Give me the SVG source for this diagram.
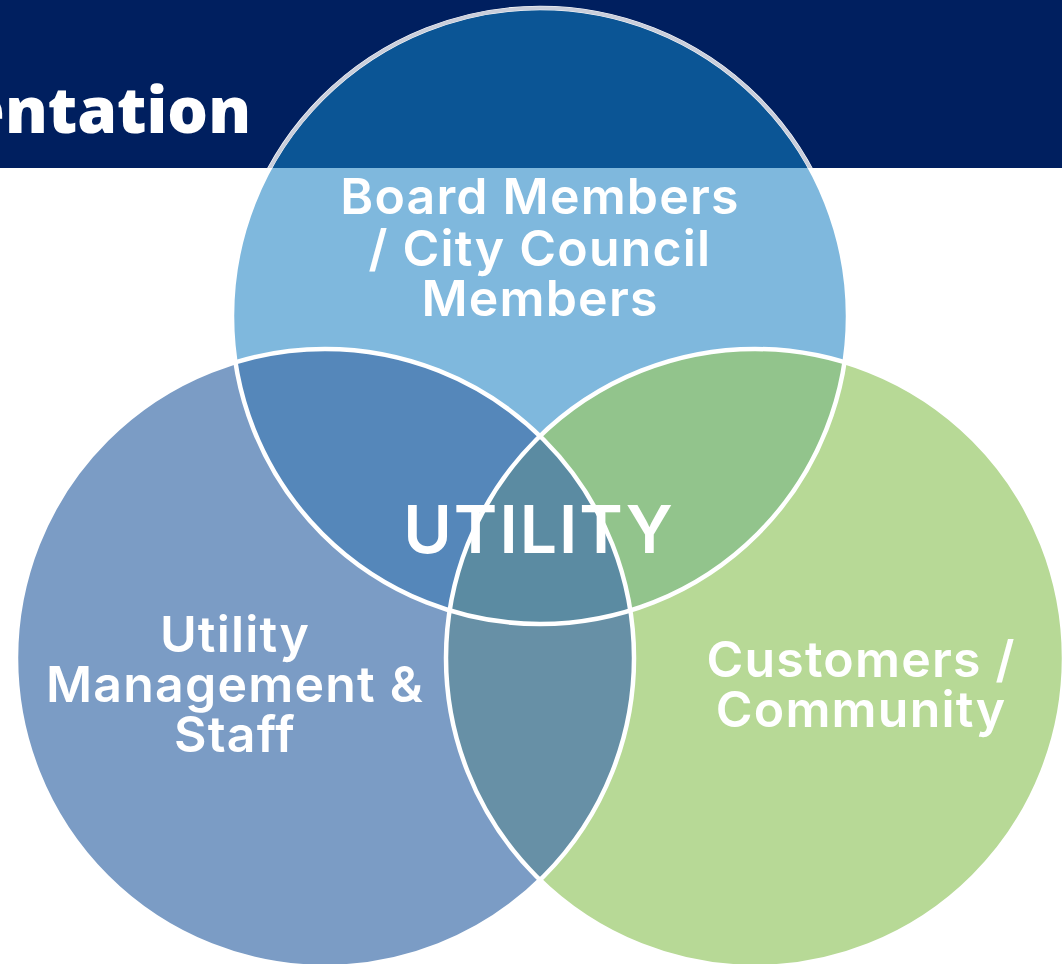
<svg xmlns="http://www.w3.org/2000/svg" width="1062" height="964" viewBox="0 0 1062 964">
<defs>
<style>
.lbl{font-family:Inter,"Open Sans","Liberation Sans",sans-serif;font-weight:600;fill:#ffffff;text-anchor:middle;letter-spacing:1.2px}
.ring{fill:none;stroke:#ffffff;stroke-width:4.5}
</style>
<clipPath id="cL"><circle cx="325" cy="658" r="309"/></clipPath>
<clipPath id="cR"><circle cx="755" cy="658" r="309"/></clipPath>
<clipPath id="cH"><rect x="0" y="0" width="1062" height="168"/></clipPath>
</defs>
<rect x="0" y="0" width="1062" height="964" fill="#ffffff"/>
<rect x="0" y="0" width="1062" height="168" fill="#001F5F"/>
<text x="251" y="133" font-family="'Open Sans','Liberation Sans',sans-serif" font-weight="800" font-size="64" fill="#ffffff" text-anchor="end">entation</text>
<g id="node-left"><circle cx="325" cy="658" r="309" fill="#7B9CC5"/></g>
<g id="node-right"><circle cx="755" cy="658" r="309" fill="#B7D996"/></g>
<g id="node-top">
<circle cx="540" cy="316" r="308" fill="#7FB8DD"/>
<circle cx="540" cy="316" r="308" fill="#0B5595" clip-path="url(#cH)"/>
</g>
<g id="overlaps">
<g clip-path="url(#cL)"><circle cx="540" cy="316" r="308" fill="#5587BA"/></g>
<g clip-path="url(#cR)"><circle cx="540" cy="316" r="308" fill="#92C48C"/></g>
<g clip-path="url(#cR)"><circle cx="325" cy="658" r="309" fill="#6790A6"/></g>
<g clip-path="url(#cR)"><g clip-path="url(#cL)"><circle cx="540" cy="316" r="308" fill="#5B8BA2"/></g></g>
</g>
<g id="outlines">
<circle class="ring" cx="325" cy="658" r="309"/>
<circle class="ring" cx="755" cy="658" r="309"/>
<circle class="ring" cx="540" cy="316" r="308"/>
<g clip-path="url(#cH)"><circle cx="540" cy="316" r="308" fill="none" stroke="#C9CEDB" stroke-width="3.5"/></g>
</g>
<g id="label-top"><text class="lbl" font-size="50"><tspan x="540" y="214">Board Members</tspan><tspan x="540" y="266">/ City Council</tspan><tspan x="540" y="316">Members</tspan></text></g>
<g id="label-center"><text class="lbl" x="539" y="553" font-size="66" font-weight="500" style="letter-spacing:2px">UTILITY</text></g>
<g id="label-left"><text class="lbl" font-size="50"><tspan x="235" y="652">Utility</tspan><tspan x="235" y="702">Management &amp;</tspan><tspan x="235" y="752">Staff</tspan></text></g>
<g id="label-right"><text class="lbl" font-size="50"><tspan x="861" y="677">Customers /</tspan><tspan x="861" y="727">Community</tspan></text></g>
</svg>
